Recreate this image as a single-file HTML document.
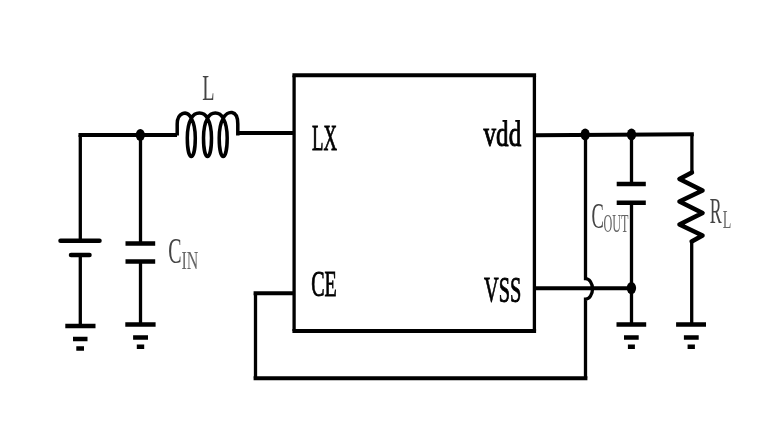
<!DOCTYPE html>
<html><head><meta charset="utf-8">
<style>
html,body{margin:0;padding:0;background:#fff;}
body{width:784px;height:440px;overflow:hidden;}
svg{display:block;will-change:transform;}
text{font-family:"Liberation Serif",serif;}
</style></head>
<body>
<svg width="784" height="440" viewBox="0 0 784 440">
<rect x="0" y="0" width="784" height="440" fill="#fff"/>
<!-- horizontal wires -->
<g fill="none" stroke="#000" stroke-width="4" stroke-linecap="butt">
  <path d="M292.4,75.2 H536.1"/>
  <path d="M292.4,331.1 H536.1"/>
  <path d="M78.5,135 H177"/>
  <path d="M237.5,133.1 H294"/>
  <path d="M534,135.2 L693.8,134.2"/>
  <path d="M534,288.2 H631.5"/>
  <path d="M253.6,293.2 H294"/>
  <path d="M253.6,378.3 H587.4"/>
</g>
<!-- vertical wires -->
<g fill="none" stroke="#000" stroke-width="3.3" stroke-linecap="butt">
  <path d="M294.1,75.5 V331"/>
  <path d="M534.4,75.5 V331"/>
  <path d="M80.3,135 V240"/>
  <path d="M80.3,255 V326"/>
  <path d="M140.5,135 V243.5"/>
  <path d="M140.5,261.5 V324.5"/>
  <path d="M631.5,134.5 V183.5"/>
  <path d="M631.5,202.5 V324.5"/>
  <path d="M691.9,134.2 V172.5"/>
  <path d="M691.7,241.5 V324.5"/>
  <path d="M255.5,293.2 V378.3"/>
  <path d="M585.5,378.3 V299.2 A7,10.3 0 0 0 585.5,278.6 V134.5"/>
</g>
<!-- inductor -->
<g fill="none" stroke="#000" stroke-width="3.5" stroke-linejoin="round">
  <path d="M177.2,135.5 V124 C177.2,113.5 186.5,109 191.3,118.3 C 193.90,122.80 195.30,128.30 195.30,138.00 A 4.00,18.60 0 0 1 187.30,138.00 C 187.30,128.30 188.70,122.80 191.30,118.30 C 194.90,111.10 203.90,111.10 207.50,118.30 C 210.10,122.80 211.50,128.30 211.50,138.00 A 4.00,18.60 0 0 1 203.50,138.00 C 203.50,128.30 204.90,122.80 207.50,118.30 C 211.10,111.10 219.60,111.10 223.20,118.30 C 225.80,122.80 227.20,128.30 227.20,138.00 A 4.00,18.60 0 0 1 219.20,138.00 C 219.20,128.30 220.60,122.80 223.20,118.30 C 227.20,110.30 237.8,109 237.8,124 V135.5"/>
</g>
<!-- resistor -->
<g fill="none" stroke="#000" stroke-width="4.6" stroke-linejoin="round" stroke-linecap="round">
  <path d="M691.9,172.5 L679.5,179 L702.5,190.5 L679.5,201.5 L702.5,213 L679.5,224.5 L702.5,235.5 L691.7,241.5"/>
</g>
<!-- battery plates -->
<g stroke="#000" stroke-width="4.5" stroke-linecap="round">
  <path d="M60.5,240.7 H99.5"/>
  <path d="M71,254.9 H89.5"/>
</g>
<!-- capacitor plates and grounds -->
<g stroke="#000" stroke-width="4.5" stroke-linecap="butt">
  <path d="M125.5,243.5 H155.2 M125.5,261.6 H155.2"/>
  <path d="M616.7,184 H645.8 M616.7,202.7 H645.8"/>
  <path d="M65.3,326 H95.5 M73,339 H87.5 M76.3,348.6 H84"/>
  <path d="M125.3,324.5 H155.6 M133.1,337.6 H148 M136.8,346.7 H144.2"/>
  <path d="M616.5,324.5 H646.2 M624,337.6 H638.7 M627.9,346.7 H634.9"/>
  <path d="M676.1,324.5 H706 M683.9,337.6 H698.7 M687.6,346.7 H694.9"/>
</g>
<!-- junction dots -->
<g fill="#000">
  <ellipse cx="140.3" cy="135" rx="4.6" ry="6"/>
  <ellipse cx="585.2" cy="134.6" rx="4.6" ry="6"/>
  <ellipse cx="631.5" cy="134.4" rx="4.6" ry="6"/>
  <ellipse cx="631.4" cy="288.1" rx="4.7" ry="6.1"/>
</g>
<!-- labels -->
<g fill="#000" stroke="#000" stroke-width="0.9" font-size="36">
  <text x="312" y="149.5" textLength="25" lengthAdjust="spacingAndGlyphs">LX</text>
  <text x="483.5" y="145.6" font-size="35" textLength="37.7" lengthAdjust="spacingAndGlyphs">vdd</text>
  <text x="311.2" y="296" textLength="25.6" lengthAdjust="spacingAndGlyphs">CE</text>
  <text x="484.1" y="301.5" textLength="37.3" lengthAdjust="spacingAndGlyphs">VSS</text>
</g>
<g fill="#444" font-size="36">
  <text x="202.3" y="100" textLength="12.3" lengthAdjust="spacingAndGlyphs">L</text>
  <text x="168.2" y="263.3" textLength="13.3" lengthAdjust="spacingAndGlyphs">C</text>
  <text x="591.6" y="228" textLength="12.3" lengthAdjust="spacingAndGlyphs">C</text>
  <text x="709.7" y="223.2" textLength="11.9" lengthAdjust="spacingAndGlyphs">R</text>
</g>
<g fill="#666" font-size="26">
  <text x="181.5" y="268.5" textLength="16.8" lengthAdjust="spacingAndGlyphs">IN</text>
  <text x="603.4" y="232" textLength="25" lengthAdjust="spacingAndGlyphs">OUT</text>
  <text x="722.7" y="228.3" textLength="8.6" lengthAdjust="spacingAndGlyphs">L</text>
</g>
</svg>
</body></html>
